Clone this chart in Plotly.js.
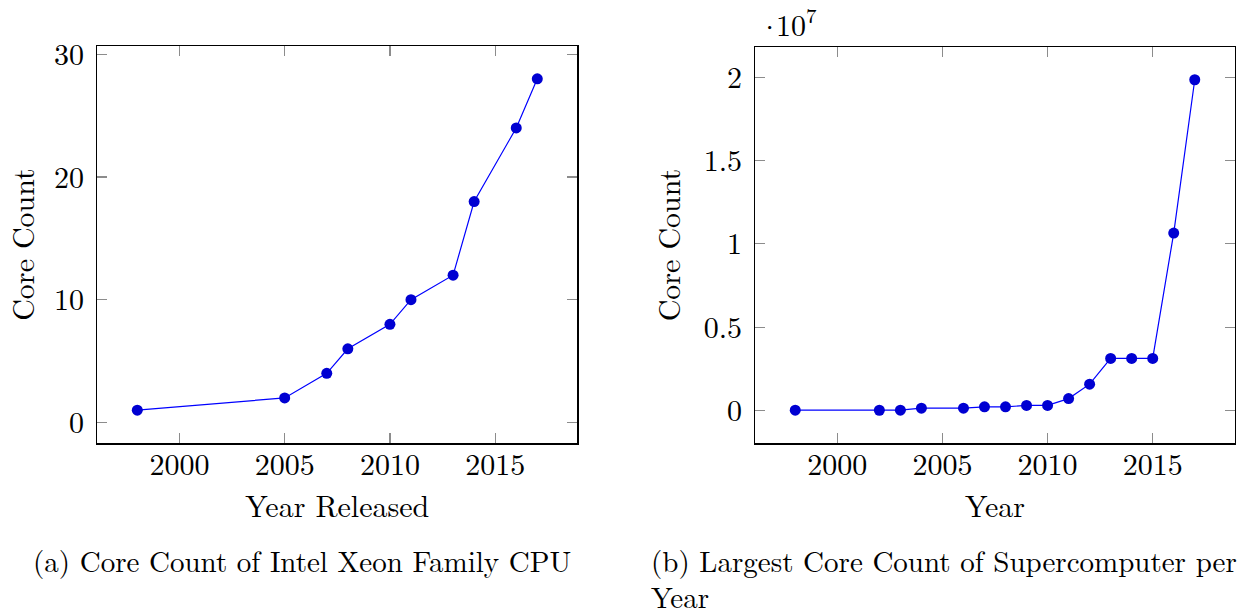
<!DOCTYPE html>
<html>
<head>
<meta charset="utf-8">
<script src="https://cdn.plot.ly/plotly-3.0.1.min.js"></script>
<style>
  html, body { margin: 0; padding: 0; background: #ffffff; }
  #chart { width: 1239px; height: 609px; }
</style>
</head>
<body>
<div id="chart"></div>
<script>
// (a) Intel Xeon family: year released vs. core count
const xeonYears = [1998, 2005, 2007, 2008, 2010, 2011, 2013, 2014, 2016, 2017];
const xeonCores = [1, 2, 4, 6, 8, 10, 12, 18, 24, 28];

// (b) Largest supercomputer core count per year
const superYears = [1998, 2002, 2003, 2004, 2006, 2007, 2008, 2009, 2010, 2011, 2012, 2013, 2014, 2015, 2016, 2017];
const superCores = [9152, 5120, 8192, 131072, 131072, 212992, 212992, 294912, 294912, 705024, 1572864, 3120000, 3120000, 3120000, 10649600, 19860000];

// tick labels
const yearTicks = [2000, 2005, 2010, 2015];
const xeonTicks = [0, 10, 20, 30];
const superTickVals = [0, 5e6, 1e7, 1.5e7, 2e7];
const superTickText = ['0', '0.5', '1', '1.5', '2'];

const W = 1239, H = 609;
const px = v => v / W;
const py = v => 1 - v / H;

const FONT = 'Latin Modern Roman';
const tickFont = { family: FONT, size: 30, color: '#000' };
const titleFont = { family: FONT, size: 30, color: '#000' };
const capFont = { family: FONT, size: 29, color: '#000' };

const lineStyle = { color: 'rgb(0,0,255)', width: 1.2 };
const markerStyle = { color: 'rgb(0,0,210)', size: 11, line: { width: 0 } };

// pgfplots-like padded range: 10% of the data span on each side
function padded(arr) {
  const lo = Math.min(...arr), hi = Math.max(...arr);
  const d = (hi - lo) * 0.1;
  return [lo - d, hi + d];
}

function axisBase(extra) {
  return Object.assign({
    showline: true, linecolor: '#000', linewidth: 1.2, mirror: 'allticks',
    ticks: 'inside', ticklen: 10, tickcolor: '#8c8c8c', tickwidth: 1.2,
    showgrid: false, zeroline: false, tickfont: tickFont,
    fixedrange: true
  }, extra);
}

const traces = [
  { x: xeonYears, y: xeonCores, xaxis: 'x', yaxis: 'y', type: 'scatter', mode: 'lines+markers',
    line: lineStyle, marker: markerStyle, showlegend: false, hoverinfo: 'x+y' },
  { x: superYears, y: superCores, xaxis: 'x2', yaxis: 'y2', type: 'scatter', mode: 'lines+markers',
    line: lineStyle, marker: markerStyle, showlegend: false, hoverinfo: 'x+y' }
];

const layout = {
  width: W, height: H,
  margin: { l: 0, r: 0, t: 0, b: 0 },
  paper_bgcolor: '#fff', plot_bgcolor: '#fff',
  font: { family: FONT, color: '#000' },
  xaxis: axisBase({
    domain: [px(97.3), px(577.3)], anchor: 'y',
    range: padded(xeonYears), tickvals: yearTicks, ticklabelstandoff: -6,
    title: { text: 'Year Released', font: titleFont, standoff: 13 }
  }),
  yaxis: axisBase({
    domain: [py(443.3), py(45.7)], anchor: 'x',
    range: padded(xeonCores), tickvals: xeonTicks, ticklabelstandoff: 6,
    title: { text: 'Core Count', font: titleFont, standoff: 14 }
  }),
  xaxis2: axisBase({
    domain: [px(755.3), px(1234.7)], anchor: 'y2',
    range: padded(superYears), tickvals: yearTicks, ticklabelstandoff: -6,
    title: { text: 'Year', font: titleFont, standoff: 13 }
  }),
  yaxis2: axisBase({
    domain: [py(443.3), py(46.7)], anchor: 'x2',
    range: padded(superCores), tickvals: superTickVals, ticktext: superTickText, ticklabelstandoff: 6,
    title: { text: 'Core Count', font: titleFont, standoff: 14 }
  }),
  annotations: [
    // scale factor of the right-hand y axis
    { text: '·', xref: 'paper', yref: 'paper', x: px(769), y: py(26),
      xanchor: 'center', yanchor: 'middle', showarrow: false, font: { family: FONT, size: 30 } },
    { text: '10<sup>7</sup>', xref: 'paper', yref: 'paper', x: px(774), y: py(22),
      xanchor: 'left', yanchor: 'middle', showarrow: false, font: { family: FONT, size: 30 } },
    { text: '(a) Core Count of Intel Xeon Family CPU', xref: 'paper', yref: 'paper',
      x: px(31), y: py(559), xanchor: 'left', yanchor: 'middle', showarrow: false, font: capFont },
    { text: '(b) Largest Core Count of Supercomputer per', xref: 'paper', yref: 'paper',
      x: px(649), y: py(559), xanchor: 'left', yanchor: 'middle', showarrow: false, font: capFont },
    { text: 'Year', xref: 'paper', yref: 'paper',
      x: px(649), y: py(595), xanchor: 'left', yanchor: 'middle', showarrow: false, font: capFont }
  ]
};

Plotly.newPlot('chart', traces, layout, { staticPlot: true, displayModeBar: false });
</script>
</body>
</html>
